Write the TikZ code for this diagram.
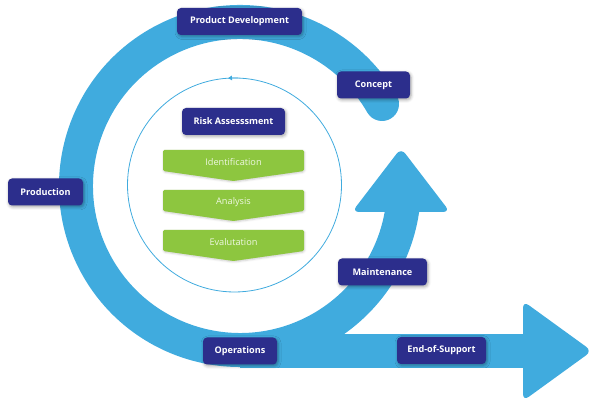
\documentclass[tikz,border=0pt]{standalone}
\usepackage{fontspec}
\setmainfont{Open Sans}
\usetikzlibrary{arrows.meta,shadows.blur}
\definecolor{bandblue}{RGB}{64,171,222}
\definecolor{boxblue}{RGB}{44,46,140}
\definecolor{leafgreen}{RGB}{141,198,63}
\definecolor{paletext}{RGB}{238,247,225}
\tikzset{
  lbl/.style={fill=boxblue, rounded corners=4pt, text=white,
    font=\bfseries\fontsize{9.1}{10}\selectfont, minimum height=27pt, inner sep=0pt,
    blur shadow={shadow xshift=1pt, shadow yshift=-1.5pt, shadow blur radius=3pt, shadow opacity=35}},
  gtext/.style={text=paletext, font=\fontsize{9.2}{10}\selectfont, inner sep=0pt},
  chev/.style={fill=leafgreen, rounded corners=1.5pt,
    blur shadow={shadow xshift=0.5pt, shadow yshift=-1pt, shadow blur radius=2pt, shadow opacity=20}},
  band/.style={bandblue, line width=34pt, line cap=round},
  thin/.style={bandblue, line width=0.8pt}
}
\begin{document}
\begin{tikzpicture}[x=1pt,y=1pt]
\useasboundingbox (0,0) rectangle (590,401);
\coordinate (C) at (240,215);
\coordinate (T) at (234.5,216);
% spiral band
\draw[band] (C) ++(30:164) arc[start angle=30,end angle=353,radius=164];
\fill[bandblue] (240,33) rectangle (530,67);
\fill[bandblue, rounded corners=7pt] (523,100) -- (592,50) -- (523,0) -- cycle;
\fill[bandblue, rounded corners=7pt] (352,189) -- (401,253) -- (450,189) -- cycle;
% inner thin circle
\draw[thin] (T) circle[radius=107];
\draw[thin, -{Triangle[length=4pt,width=4.5pt]}] (T) ++(88:107) arc[start angle=88,end angle=93.5,radius=107];
% chevrons
\foreach \n/\t/\y in {ident/Identification/240.5, anal/Analysis/200.5, eval/Evalutation/160.5}{
  \fill[chev] (163,\y+10.5) -- (304,\y+10.5) -- (304,\y-10.5) -- (233.5,\y-20.5) -- (163,\y-10.5) -- cycle;
  \node[gtext] (\n) at (233.5,\y-2) {\t};
}
% labels
\node[lbl, minimum width=125pt] (pd) at (239.5,379.5) {Product Development};
\node[lbl, minimum width=73pt] (concept) at (373.5,316) {Concept};
\node[lbl, minimum width=103pt] (risk) at (233.5,279.5) {Risk Assesssment};
\node[lbl, minimum width=75pt] (prod) at (45.5,209) {Production};
\node[lbl, minimum width=89pt] (maint) at (382.5,129) {Maintenance};
\node[lbl, minimum width=74pt] (ops) at (240,50) {Operations};
\node[lbl, minimum width=89pt] (eos) at (441.5,50.5) {End-of-Support};
\end{tikzpicture}
\end{document}
